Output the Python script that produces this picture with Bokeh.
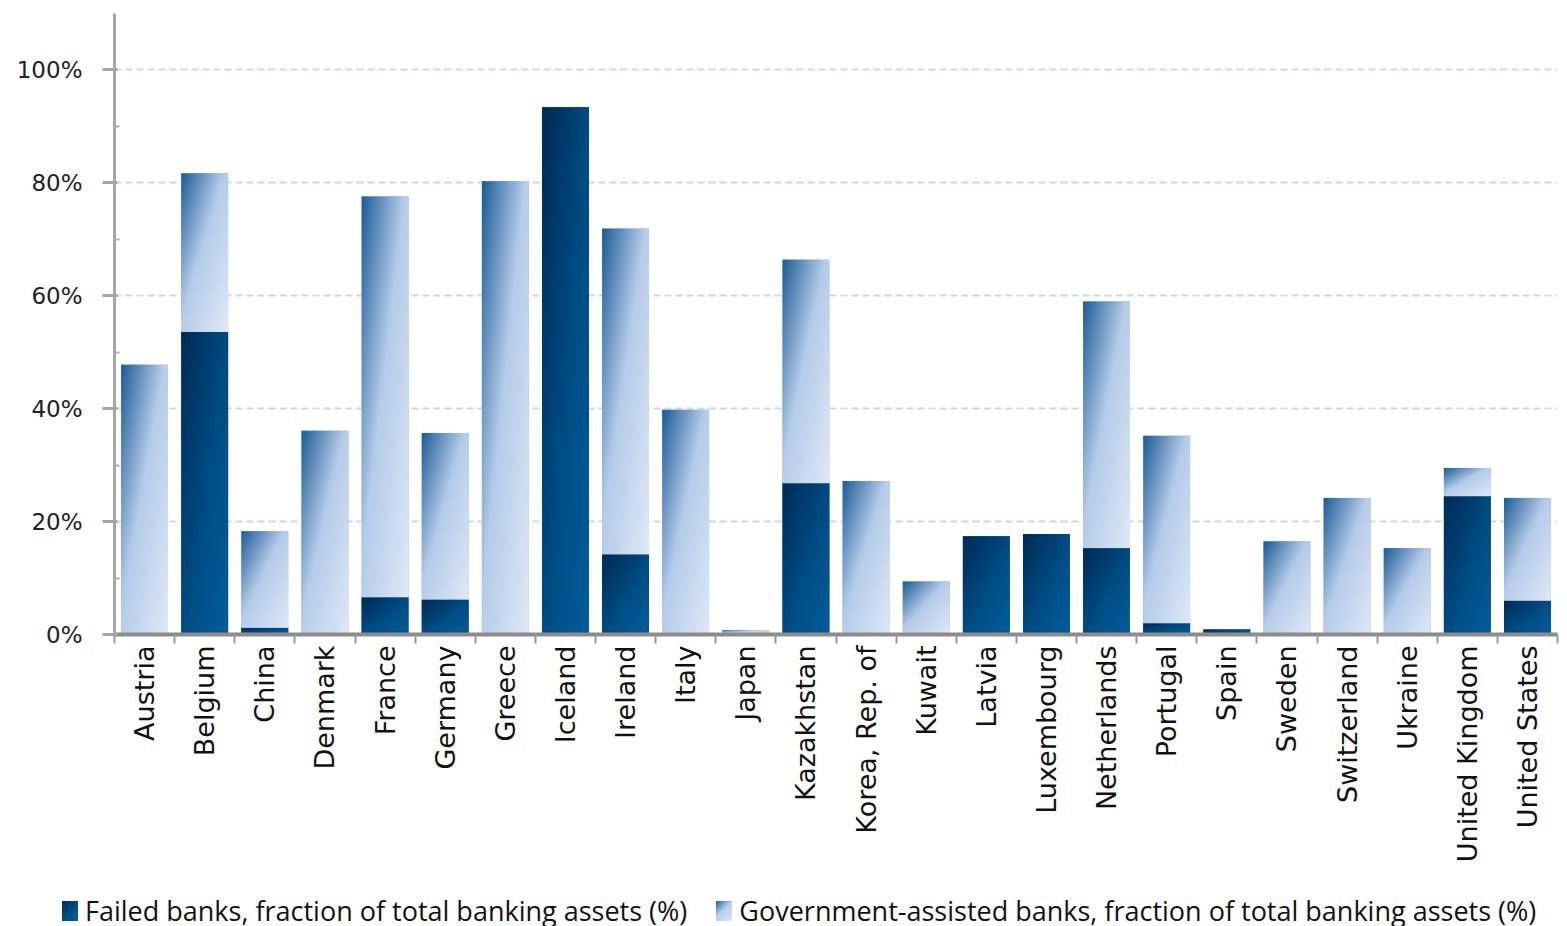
import numpy as np
from bokeh.plotting import figure
from bokeh.layouts import column
from bokeh.models import (Range1d, FixedTicker, PrintfTickFormatter, ColumnDataSource, Div)
from bokeh.embed import file_html
from bokeh.resources import INLINE

countries = ["Austria", "Belgium", "China", "Denmark", "France", "Germany", "Greece",
             "Iceland", "Ireland", "Italy", "Japan", "Kazakhstan", "Korea, Rep. of",
             "Kuwait", "Latvia", "Luxembourg", "Netherlands", "Portugal", "Spain",
             "Sweden", "Switzerland", "Ukraine", "United Kingdom", "United States"]
failed = [0.0, 53.6, 1.2, 0.0, 6.6, 6.2, 0.0, 93.4, 14.2, 0.0, 0.0, 26.8, 0.0,
          0.0, 17.4, 17.8, 15.3, 2.0, 0.9, 0.0, 0.0, 0.0, 24.5, 6.0]
assisted = [47.8, 28.1, 17.1, 36.1, 71.0, 29.5, 80.3, 0.0, 57.7, 39.8, 0.8, 39.6, 27.2,
            9.4, 0.0, 0.0, 43.7, 33.2, 0.0, 16.5, 24.2, 15.3, 5.0, 18.2]
y_ticks = [0, 20, 40, 60, 80, 100]
failed_label = "Failed banks, fraction of total banking assets (%)"
assisted_label = "Government-assisted banks, fraction of total banking assets (%)"

BAR_W = 0.78
FRAME_W = 1443
FRAME_H = 621
Y_MAX = 110
PX_X = FRAME_W / len(countries)   # gradient resolution only
PX_Y = FRAME_H / Y_MAX

GOV_STOPS = [(0.0, (0x1d, 0x5d, 0x96)), (0.45, (0xb5, 0xcb, 0xea)), (1.0, (0xe0, 0xe9, 0xf6))]
FAIL_STOPS = [(0.0, (0x00, 0x2b, 0x55)), (0.5, (0x00, 0x4b, 0x82)), (1.0, (0x00, 0x5e, 0x9c))]
FAIL_COLOR = "#004b82"
GOV_COLOR = "#8fb0da"


def gradient(h_units, stops):
    cols = max(2, int(round(BAR_W * PX_X)))
    rows = max(2, int(round(h_units * PX_Y)))
    u = np.linspace(0, 1, cols)[None, :]
    v = 1 - np.linspace(0, 1, rows)[:, None]  # row 0 is bottom
    t = np.clip((u + v) / 2, 0, 1)
    img = np.empty((rows, cols), dtype=np.uint32)
    view = img.view(dtype=np.uint8).reshape((rows, cols, 4))
    ts = [s[0] for s in stops]
    for c in range(3):
        vals = [s[1][c] for s in stops]
        view[:, :, c] = np.interp(t, ts, vals).astype(np.uint8)
    view[:, :, 3] = 255
    return img


def css_grad(stops):
    parts = ["rgb(%d,%d,%d) %d%%" % (c[0], c[1], c[2], int(s * 100)) for s, c in stops]
    return "linear-gradient(135deg," + ",".join(parts) + ")"


xs = list(range(len(countries)))
p = figure(frame_width=FRAME_W, frame_height=FRAME_H, output_backend="svg",
           toolbar_location=None,
           x_range=Range1d(-0.5, len(countries) - 0.5), y_range=Range1d(0, Y_MAX),
           min_border_left=114, min_border_top=13, min_border_right=10,
           min_border_bottom=256)
p.outline_line_color = None
p.background_fill_color = "white"

src = ColumnDataSource(dict(x=xs, failed=failed, assisted=assisted,
                            top=[f + a for f, a in zip(failed, assisted)]))
p.vbar(x="x", bottom=0, top="failed", width=BAR_W, source=src,
       fill_color=FAIL_COLOR, line_color=None)
p.vbar(x="x", bottom="failed", top="top", width=BAR_W, source=src,
       fill_color=GOV_COLOR, line_color=None)

imgs, ix, iy, idw, idh = [], [], [], [], []
for i in xs:
    if failed[i] > 0:
        imgs.append(gradient(failed[i], FAIL_STOPS))
        ix.append(i - BAR_W / 2); iy.append(0); idw.append(BAR_W); idh.append(failed[i])
    if assisted[i] > 0:
        imgs.append(gradient(assisted[i], GOV_STOPS))
        ix.append(i - BAR_W / 2); iy.append(failed[i]); idw.append(BAR_W); idh.append(assisted[i])
p.image_rgba(image="image", x="x", y="y", dw="dw", dh="dh",
             source=ColumnDataSource(dict(image=imgs, x=ix, y=iy, dw=idw, dh=idh)))

# y axis
p.yaxis.ticker = FixedTicker(ticks=y_ticks, minor_ticks=[10, 30, 50, 70, 90])
p.yaxis.formatter = PrintfTickFormatter(format="%d%%")
p.yaxis.axis_line_color = "#a6a6a6"
p.yaxis.axis_line_width = 3
p.yaxis.major_tick_line_color = "#a6a6a6"
p.yaxis.major_tick_line_width = 3
p.yaxis.major_tick_out = 12
p.yaxis.major_tick_in = 3
p.yaxis.minor_tick_line_color = "#b0b0b0"
p.yaxis.minor_tick_line_width = 2
p.yaxis.minor_tick_out = 0
p.yaxis.minor_tick_in = 5
p.yaxis.major_label_text_font = "DejaVu Sans"
p.yaxis.major_label_text_font_size = "23px"
p.yaxis.major_label_text_color = "#222222"
p.yaxis.major_label_standoff = 20

# x axis
p.xaxis.ticker = FixedTicker(ticks=xs, minor_ticks=[i - 0.5 for i in xs] + [len(xs) - 0.5])
p.xaxis.major_label_overrides = {i: c for i, c in enumerate(countries)}
p.xaxis.major_label_orientation = np.pi / 2
p.xaxis.axis_line_color = "#8c8c8c"
p.xaxis.axis_line_width = 4
p.xaxis.major_tick_line_color = None
p.xaxis.major_tick_out = 0
p.xaxis.major_tick_in = 0
p.xaxis.minor_tick_line_color = "#999999"
p.xaxis.minor_tick_line_width = 2
p.xaxis.minor_tick_out = 9
p.xaxis.minor_tick_in = 0
p.xaxis.major_label_text_font = "DejaVu Sans"
p.xaxis.major_label_text_font_size = "27px"
p.xaxis.major_label_text_color = "#111111"
p.xaxis.major_label_standoff = 2

p.xgrid.grid_line_color = None
p.ygrid.ticker = FixedTicker(ticks=y_ticks[1:])
p.ygrid.grid_line_color = "#c9daee"
p.ygrid.grid_line_width = 2
p.ygrid.grid_line_dash = "7 4"

# legend strip below the chart
swatch = ("display:inline-block;width:16px;height:20px;vertical-align:middle;"
          "margin-right:7px;background:%s;")
legend_html = (
    '<div style="font-family:\'Open Sans\';font-size:27px;color:#111111;'
    'white-space:nowrap;line-height:36px;padding-left:62px;">'
    '<span style="' + swatch % css_grad(FAIL_STOPS) + '"></span>'
    '<span style="vertical-align:middle;">' + failed_label + '</span>'
    '<span style="' + swatch % css_grad(GOV_STOPS) + 'margin-left:29px;"></span>'
    '<span style="vertical-align:middle;">' + assisted_label + '</span>'
    '</div>'
)
legend_div = Div(text=legend_html, width=1567, height=36, margin=0)

layout = column(p, legend_div, spacing=0)
open("out.html", "w").write(file_html(layout, INLINE))
